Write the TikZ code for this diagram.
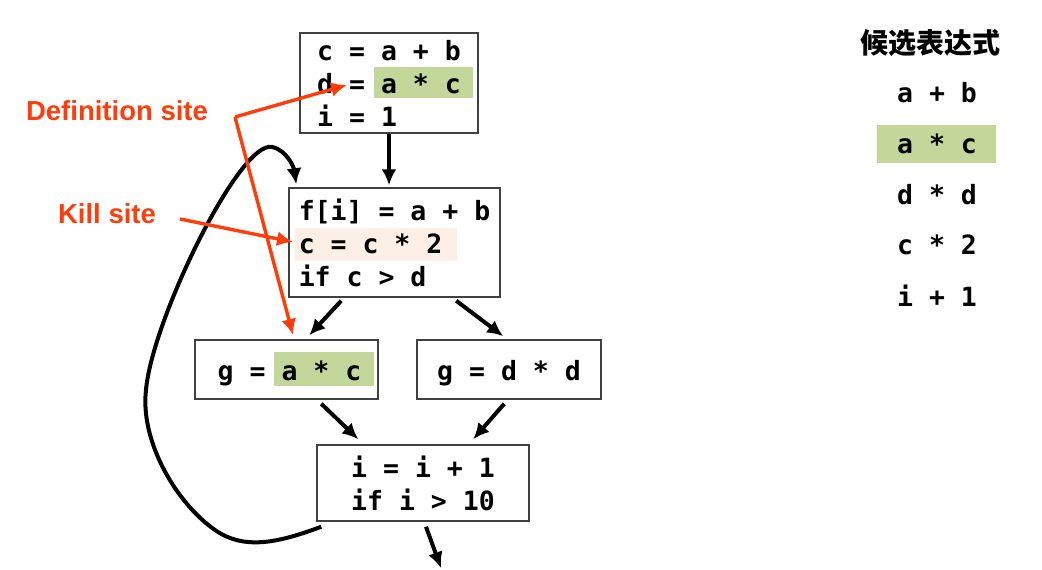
\documentclass[tikz,border=0pt]{standalone}
\usepackage{fontspec}
\setsansfont{Liberation Sans}
\setmonofont{DejaVu Sans Mono}
\newfontfamily\cjk{Noto Sans CJK SC}
\usepackage{xcolor}
\usetikzlibrary{arrows.meta}
\definecolor{hlgreen}{RGB}{196,215,155}
\definecolor{hlpeach}{RGB}{252,239,229}
\definecolor{sitered}{RGB}{255,60,10}
\begin{document}
\begin{tikzpicture}[x=1pt,y=-1pt,>={Latex[length=16pt,width=15pt]},
	blk/.style={draw=black!75,line width=1.5pt,align=left,inner sep=0pt,
		font=\ttfamily\bfseries\fontsize{26.5}{33}\selectfont},
	single/.style={blk,text height=26pt,text depth=4pt},
	expr/.style={font=\ttfamily\bfseries\fontsize{26.5}{30}\selectfont},
	flow/.style={->,line width=4pt},
	site/.style={->,sitered,line width=3.4pt},
	sitelbl/.style={sitered,font=\sffamily\bfseries\fontsize{27.5}{30}\selectfont}]
	\useasboundingbox (0,0) rectangle (1042,570);
	% highlights
	\fill[hlgreen] (374,67) rectangle (473,98);
	\fill[hlpeach] (295,228) rectangle (457,261);
	\fill[hlgreen] (274,352) rectangle (374,386);
	\fill[hlgreen] (877,125) rectangle (996,163);
	% blocks
	\node[blk,minimum width=178pt,minimum height=100pt] (b1) at (389,83) {c = a + b\\d = a * c\\i = 1};
	\node[blk,minimum width=211pt,minimum height=109pt] (b2) at (394.5,242.5) {f[i] = a + b\\c = c * 2\\if c > d};
	\node[single,minimum width=183pt,minimum height=59pt] (b3) at (286.5,369.5) {\hspace*{6pt}g = a * c};
	\node[single,minimum width=184pt,minimum height=59pt] (b4) at (509,369.5) {g = d * d};
	\node[blk,minimum width=212pt,minimum height=76pt] (b5) at (423,483) {i = i + 1\\if i > 10};
	\coordinate (exit) at (441,568);
	% edges
	\draw[flow] (b1.south) -- ([yshift=2pt]b1.south |- b2.north);
	\draw[flow] ([xshift=53pt,yshift=-3pt]b2.south west) -- ([xshift=115pt,yshift=4pt]b3.north west);
	\draw[flow] ([xshift=168pt,yshift=-3pt]b2.south west) -- ([xshift=87pt,yshift=3pt]b4.north west);
	\draw[flow] ([xshift=127pt,yshift=-4pt]b3.south west) -- ([xshift=42pt,yshift=5pt]b5.north west);
	\draw[flow] ([xshift=88pt,yshift=-4pt]b4.south west) -- ([xshift=157pt,yshift=5pt]b5.north west);
	\draw[flow] ([xshift=3pt,yshift=-5pt]b5.south) -- (exit);
	% back edge
	\draw[flow] ([xshift=5pt,yshift=-5pt]b5.south west) .. controls (280,542) and (245,551) .. (215,530)
		.. controls (175,502) and (140,440) .. (146,390)
		.. controls (152,320) and (240,140) .. (272,147)
		.. controls (287,150) and (294,168) .. ([xshift=8pt,yshift=3pt]b2.north west);
	% sites
	\node[sitelbl] (deflbl) at (117,111) {Definition site};
	\node[sitelbl] (killlbl) at (107,214) {Kill site};
	\coordinate (bend) at (235,117);
	\coordinate (defpt) at (347,85);
	\coordinate (usept) at (293,335);
	\coordinate (killst) at (180,219);
	\coordinate (killpt) at (293,242);
	\draw[site] (bend) -- (defpt);
	\draw[site] (bend) -- (usept);
	\draw[site] (killst) -- (killpt);
	% candidate expressions
	\node[font=\cjk\bfseries\fontsize{28}{30}\selectfont] (title) at (930,43) {候选表达式};
	\node[expr] (e1) at (937,93) {a + b};
	\node[expr] (e2) at (937,144) {a * c};
	\node[expr] (e3) at (937,195) {d * d};
	\node[expr] (e4) at (937,245) {c * 2};
	\node[expr] (e5) at (937,296) {i + 1};
\end{tikzpicture}
\end{document}
